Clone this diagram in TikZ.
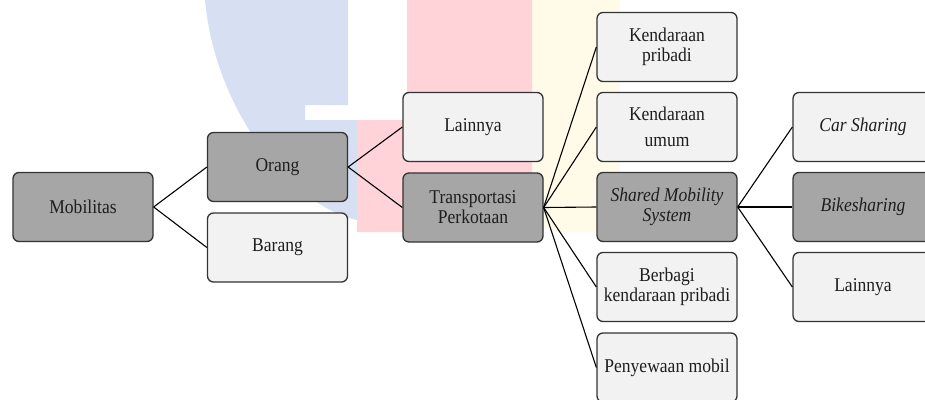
\documentclass[tikz,border=0pt]{standalone}
\usepackage{fontspec}
\setmainfont[FakeStretch=0.9]{Liberation Serif}
\definecolor{darkfill}{HTML}{A6A6A6}
\definecolor{lightfill}{HTML}{F2F2F2}
\definecolor{bordercol}{HTML}{333333}
\definecolor{textcol}{HTML}{1E1E1E}
\definecolor{wmblue}{HTML}{D6E0F2}
\definecolor{wmred}{HTML}{FFD3D8}
\definecolor{wmyellow}{HTML}{FFFBE8}
\tikzset{
  box/.style={draw=bordercol, line width=1.3pt, rounded corners=6pt,
    minimum width=140pt, minimum height=69pt, inner sep=1pt, align=center,
    font=\fontsize{19.5}{20}\selectfont, text=textcol},
  darkbox/.style={box, fill=darkfill},
  lightbox/.style={box, fill=lightfill},
  conn/.style={draw=black, line width=1.1pt}
}
\begin{document}
\begin{tikzpicture}[x=1pt,y=-1pt]
\useasboundingbox (0,0) rectangle (925,399);
\clip (0,0) rectangle (925,399);
% watermark
\fill[wmyellow, rounded corners=30pt] (532,-40) -- (620,-40) -- (620,232) -- (532,232) -- cycle;
\fill[wmblue] (205,0) -- (348,0) -- (348,105) -- (305,105) -- (305,120) -- (357,120) -- (357,220)
  .. controls (290,205) and (215,110) .. (205,0) -- cycle;
\fill[wmred] (407,0) -- (532,0) -- (532,232) -- (357,232) -- (357,120) -- (407,120) -- cycle;
% nodes
\node[darkbox]  (mob)   at (83,207)  {Mobilitas};
\node[darkbox]  (orang) at (277.5,167) {Orang};
\node[lightbox] (barang) at (277.5,247.5) {Barang};
\node[lightbox] (lain1) at (473,127) {Lainnya};
\node[darkbox]  (trans) at (473,207.5) {Transportasi\\Perkotaan};
\node[lightbox] (kp)    at (667,47)  {Kendaraan\\pribadi};
\node[lightbox] (ku)    at (667,127) {Kendaraan\\[6pt]umum};
\node[darkbox]  (sms)   at (667,207) {\itshape Shared Mobility\\\itshape System};
\node[lightbox] (bkp)   at (667,287) {Berbagi\\kendaraan pribadi};
\node[lightbox] (pm)    at (667,367.5) {Penyewaan mobil};
\node[lightbox] (cs)    at (863,127) {\itshape Car Sharing};
\node[darkbox]  (bs)    at (863,207) {\itshape Bikesharing};
\node[lightbox] (lain3) at (863,287) {Lainnya};
% connectors
\draw[conn] (mob.east) -- (orang.west);
\draw[conn] (mob.east) -- (barang.west);
\draw[conn] (orang.east) -- (lain1.west);
\draw[conn] (orang.east) -- (trans.west);
\foreach \t in {kp,ku,sms,bkp,pm} \draw[conn] (trans.east) -- (\t.west);
\foreach \t in {cs,bs,lain3} \draw[conn] (sms.east) -- (\t.west);
\end{tikzpicture}
\end{document}
